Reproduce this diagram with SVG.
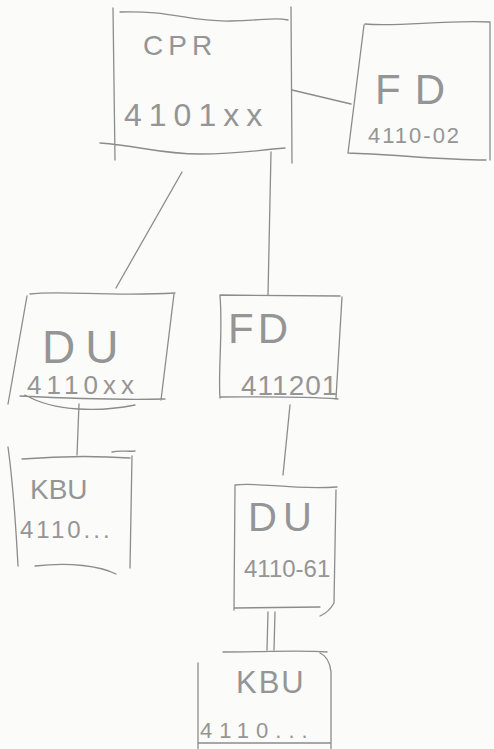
<svg xmlns="http://www.w3.org/2000/svg" width="494" height="749" viewBox="0 0 494 749">
<style>
.bg{fill:#fbfbfa}
.s{fill:none;stroke:#8c8c8c;stroke-width:1.3;stroke-linecap:round;stroke-linejoin:round}
.t{font-family:"Liberation Sans","DejaVu Sans",sans-serif;fill:#959595;font-weight:normal}
</style>
<rect class="bg" width="494" height="749"/>
<g id="connectors" class="s">
<path d="M292,90 L351,104"/>
<path d="M182,172 L116,288"/>
<path d="M271,152 L268,295"/>
<path d="M79,404 L77,455"/>
<path d="M290,405 L283,475"/>
<path d="M268,612 L267,650 M275,612 L274,650"/>
</g>
<g id="cpr">
<path class="s" d="M113,8 L115,160 M291,7 L292,163 M120,12 C170,10 190,22 230,21 S275,17 288,20 M100,143 C140,146 160,154 200,154 S250,151 285,148"/>
<text class="t" x="143" y="55" font-size="28" letter-spacing="5">CPR</text>
<text class="t" x="124" y="126" font-size="32" letter-spacing="7">4101xx</text>
</g>
<g id="fd-top">
<path class="s" d="M364,25 L348,153 M365,24 C400,27 440,20 490,22 M348,153 C390,154 440,160 486,160 M490,22 L490,160"/>
<text class="t" x="375" y="104" font-size="42" letter-spacing="14">FD</text>
<text class="t" x="368" y="143" font-size="22" letter-spacing="2">4110-02</text>
</g>
<g id="du-left">
<path class="s" d="M30,294 C60,290 110,297 175,293 M27,296 L8,404 M174,294 L161,400 M20,396 C60,398 120,400 165,399 M25,395 C55,412 100,412 135,405"/>
<text class="t" x="42" y="363" font-size="46" letter-spacing="10">DU</text>
<text class="t" x="27" y="394" font-size="26" letter-spacing="5">4110xx</text>
</g>
<g id="fd-mid">
<path class="s" d="M220,295 L340,296 M220,296 C223,330 218,370 220,398 M342,297 L336,398 M220,397 C260,397 300,396 338,399"/>
<text class="t" x="228" y="343" font-size="42" letter-spacing="4">FD</text>
<text class="t" x="241" y="395" font-size="28" letter-spacing="1">411201</text>
</g>
<g id="kbu-left">
<path class="s" d="M8,447 C14,490 16,530 18,566 M22,459 C60,456 100,456 130,458 M112,452 C120,450 128,452 135,451 M132,456 L130,568 M35,566 C70,562 100,566 116,574"/>
<text class="t" x="30" y="499" font-size="28">KBU</text>
<text class="t" x="20" y="538" font-size="24" letter-spacing="3">4110...</text>
</g>
<g id="du-bottom">
<path class="s" d="M235,485 C260,482 290,490 337,487 M235,485 L234,610 M336,490 L334,603 C330,610 325,614 320,616 M234,608 L320,607"/>
<text class="t" x="248" y="531" font-size="40" letter-spacing="6">DU</text>
<text class="t" x="244" y="577" font-size="24">4110-61</text>
</g>
<g id="kbu-bottom">
<path class="s" d="M223,652 C260,652 300,650 327,652 M198,663 L198,749 M320,653 C327,656 330,662 331,672 L331,749 M198,743 L330,743"/>
<text class="t" x="236" y="693" font-size="31" letter-spacing="2">KBU</text>
<text class="t" x="200" y="738" font-size="22" letter-spacing="7">4110...</text>
</g>
</svg>
